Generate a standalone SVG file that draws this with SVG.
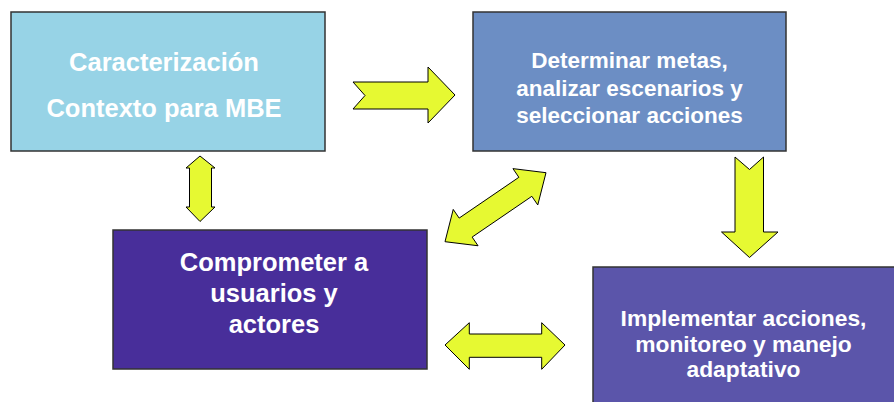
<svg xmlns="http://www.w3.org/2000/svg" width="894" height="402" viewBox="0 0 894 402">
<style>
.box{stroke:#333;stroke-width:1.5}
.t{font-family:"Liberation Sans",Arial,sans-serif;font-weight:bold;fill:#fff;text-anchor:middle}
.arr{fill:#E6F932;stroke:#000;stroke-width:1;stroke-linejoin:miter}
</style>
<rect width="894" height="402" fill="#fff"/>
<g id="caracterizacion">
<rect class="box" x="11" y="12" width="314" height="139" fill="#97D3E6"/>
<text class="t" font-size="25.5" x="164" y="71">Caracterización</text>
<text class="t" font-size="25.5" x="164" y="117">Contexto para MBE</text>
</g>
<g id="determinar">
<rect class="box" x="473" y="12" width="313" height="139" fill="#6C8EC4"/>
<text class="t" font-size="22.5" x="629.5" y="68">Determinar metas,</text>
<text class="t" font-size="22.5" x="629.5" y="95.5">analizar escenarios y</text>
<text class="t" font-size="22.5" x="629.5" y="123">seleccionar acciones</text>
</g>
<g id="comprometer">
<rect class="box" x="113" y="230" width="314" height="139" fill="#482E9A"/>
<text class="t" font-size="25.5" x="274" y="271">Comprometer a</text>
<text class="t" font-size="25.5" x="274" y="302">usuarios y</text>
<text class="t" font-size="25.5" x="274" y="333">actores</text>
</g>
<g id="implementar">
<rect class="box" x="593" y="267" width="310" height="150" fill="#5B55AA"/>
<text class="t" font-size="22.8" x="743.5" y="326">Implementar acciones,</text>
<text class="t" font-size="22.8" x="743.5" y="351.5">monitoreo y manejo</text>
<text class="t" font-size="22.8" x="743.5" y="377">adaptativo</text>
</g>
<g id="connectors">
<path class="arr" d="M353,82 L428,82 L428,67 L455,95 L428,123 L428,109 L353,109 L365,95.5 Z"/>
<path class="arr" d="M200,156 L215,168 L211.5,168 L211.5,207 L215,207 L200,221.5 L186,207 L189.5,207 L189.5,168 L186,168 Z"/>
<path class="arr" d="M546,172.7 L512.95,168.64 L518.87,177.31 L459.15,218.09 L453.23,209.42 L445,241.7 L478.05,245.76 L472.13,237.09 L531.85,196.31 L537.77,204.98 Z"/>
<path class="arr" d="M735,157 L749.5,169.5 L763.5,157 L763.5,232 L778,232 L749.5,257.5 L721.5,232 L735,232 Z"/>
<path class="arr" d="M445,345 L469.3,322.7 L469.3,334 L541.7,334 L541.7,322.7 L565,345 L541.7,369.3 L541.7,357.3 L469.3,357.3 L469.3,369.3 Z"/>
</g>
</svg>
